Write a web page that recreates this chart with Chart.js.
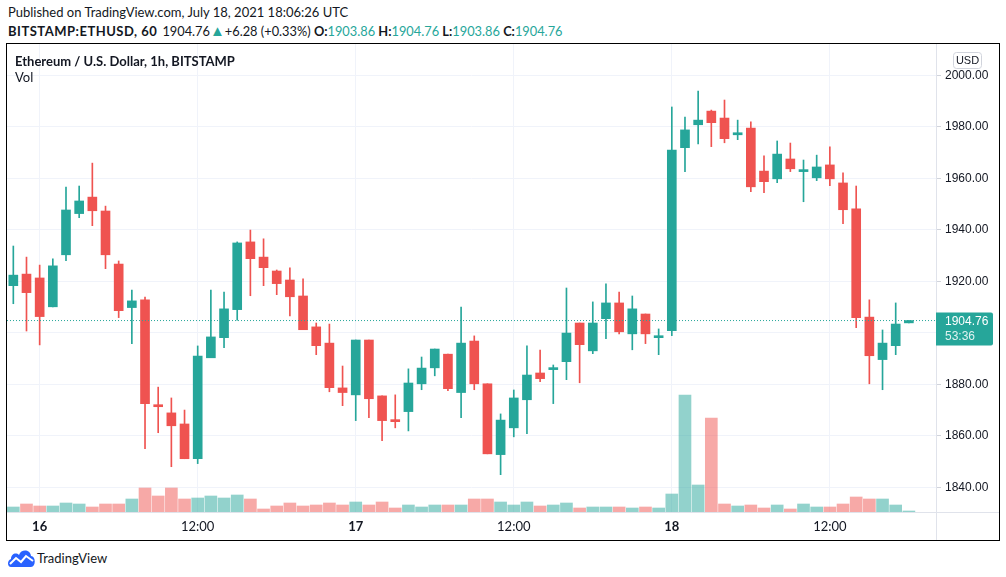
<!DOCTYPE html>
<html>
<head>
<meta charset="utf-8">
<script src="https://cdn.jsdelivr.net/npm/chart.js@4.4.1/dist/chart.umd.min.js"></script>
<style>
  body { margin: 0; width: 1006px; height: 577px; background: #fff; position: relative; overflow: hidden;
         font-family: Lato, "Open Sans", sans-serif; color: #131722; }
  .line { position: absolute; left: 8px; font-size: 13px; white-space: nowrap; }
  .b { font-weight: bold; }
  .t { color: #26a69a; }
  #frame { position: absolute; left: 6px; top: 43px; width: 992px; height: 496px; border: 1px solid #000; }
  #frame canvas { position: absolute; left: 0; top: 0; }
  .pane { position: absolute; left: 15px; font-size: 13px; z-index: 2; }
  #logo { position: absolute; left: 7px; top: 548px; display: flex; align-items: center; font-size: 13px; }
</style>
</head>
<body>
<div class="line" style="top:4px">Published on TradingView.com, July 18, 2021 18:06:26 UTC</div>
<div class="line" style="top:21px"><span class="b" style="letter-spacing:0.5px;margin-right:5px">BITSTAMP:ETHUSD, 60</span><span style="font-size:12.8px">1904.76<span class="t" style="font-size:15px">&#9650;</span>+6.28 (+0.33%) <span class="b">O:</span><span class="t">1903.86</span> <span class="b">H:</span><span class="t">1904.76</span> <span class="b">L:</span><span class="t">1903.86</span> <span class="b">C:</span><span class="t">1904.76</span></span></div>
<div id="frame"><canvas id="chart" width="992" height="496"></canvas></div>
<div class="pane" style="top:53px;font-weight:bold">Ethereum / U.S. Dollar, 1h, BITSTAMP</div>
<div class="pane" style="top:69px">Vol</div>
<div id="logo">
  <svg width="29" height="20" viewBox="0 0 29 20">
    <path d="M4 19 C0 19 0 12 4 11 C4 6 9 4 12 7 C14 1 23 1 24 8 C29 8 29 19 24 19 Z" fill="#2962ff"/>
    <polyline points="3,16 9,10 14,14 19,8 26,13" fill="none" stroke="#fff" stroke-width="2"/>
  </svg>
  <span style="margin-left:1px">TradingView</span>
</div>
<script>
// hourly candles, 15 Jul 22:00 .. 18 Jul 18:00 UTC
const opens = [1918.3, 1922.8, 1921.3, 1910.1, 1930.3, 1946.3, 1952.7, 1947.3, 1926.7, 1909.8,
  1912.8, 1872.0, 1868.9, 1864.6, 1851.1, 1890.3, 1898.1, 1909.0, 1935.3, 1929.4,
  1924.0, 1920.5, 1914.3, 1902.3, 1896.0, 1878.6, 1875.9, 1897.2, 1875.5, 1866.1,
  1869.4, 1880.2, 1886.4, 1891.7, 1876.8, 1896.8, 1880.2, 1852.7, 1863.1, 1874.0,
  1884.4, 1885.7, 1888.8, 1903.8, 1893.0, 1905.5, 1911.6, 1899.6, 1907.3, 1898.1,
  1900.8, 1971.9, 1980.8, 1986.1, 1983.4, 1976.9, 1979.5, 1962.8, 1959.8, 1967.5,
  1962.6, 1960.2, 1965.2, 1958.2, 1948.1, 1906.1, 1889.6, 1895.0, 1903.86];
const highs = [1933.7, 1929.4, 1926.3, 1928.7, 1956.6, 1957.0, 1965.9, 1949.2, 1927.9, 1916.6,
  1913.9, 1878.9, 1874.7, 1870.0, 1894.9, 1916.6, 1915.8, 1935.3, 1939.9, 1936.5,
  1924.4, 1925.2, 1921.0, 1903.8, 1903.4, 1887.1, 1897.2, 1897.2, 1875.5, 1875.9,
  1886.0, 1890.6, 1893.7, 1891.7, 1910.0, 1898.8, 1880.2, 1868.5, 1877.8, 1894.9,
  1893.3, 1887.5, 1917.4, 1903.8, 1912.0, 1919.0, 1915.8, 1914.3, 1907.3, 1901.5,
  1987.7, 1983.8, 1993.9, 1986.5, 1990.4, 1982.6, 1981.9, 1968.7, 1974.5, 1973.7,
  1967.1, 1969.0, 1972.2, 1962.1, 1957.0, 1912.8, 1901.1, 1911.6, 1904.76];
const lows = [1911.3, 1900.7, 1895.3, 1910.1, 1928.0, 1944.7, 1941.6, 1924.9, 1905.9, 1895.8,
  1855.0, 1861.2, 1848.0, 1851.1, 1849.2, 1890.3, 1894.2, 1904.9, 1914.4, 1918.3,
  1914.8, 1906.6, 1901.2, 1891.5, 1877.1, 1871.7, 1865.9, 1867.0, 1858.1, 1863.1,
  1861.9, 1877.9, 1883.3, 1877.5, 1867.0, 1877.9, 1853.0, 1844.9, 1859.6, 1860.8,
  1881.0, 1872.5, 1881.8, 1880.6, 1891.9, 1897.7, 1899.6, 1893.4, 1895.8, 1891.5,
  1898.9, 1962.6, 1973.4, 1972.3, 1973.8, 1975.0, 1954.8, 1954.4, 1958.3, 1962.6,
  1950.9, 1959.1, 1957.1, 1942.4, 1902.0, 1880.2, 1877.9, 1891.5, 1903.86];
const closes = [1922.4, 1915.6, 1906.3, 1926.0, 1947.7, 1951.2, 1947.4, 1930.3, 1908.6, 1912.4,
  1872.5, 1871.3, 1863.9, 1851.1, 1891.0, 1898.4, 1909.3, 1934.9, 1928.8, 1925.3,
  1919.1, 1914.0, 1901.2, 1895.0, 1878.7, 1876.8, 1897.2, 1874.4, 1865.9, 1865.5,
  1880.5, 1886.3, 1893.7, 1878.3, 1896.0, 1880.2, 1853.0, 1866.1, 1874.7, 1883.6,
  1882.2, 1886.3, 1899.9, 1895.4, 1903.8, 1911.6, 1900.4, 1909.3, 1899.6, 1898.6,
  1971.0, 1978.8, 1982.6, 1981.6, 1975.4, 1977.7, 1956.7, 1958.7, 1969.4, 1963.7,
  1963.2, 1964.4, 1959.8, 1947.8, 1905.9, 1891.1, 1896.0, 1903.4, 1904.76];
const volumes = [250, 400, 300, 300, 450, 400, 250, 400, 400, 650,
  1200, 800, 1200, 650, 700, 800, 700, 850, 650, 150,
  300, 450, 300, 350, 450, 350, 500, 350, 500, 200,
  350, 250, 350, 350, 350, 650, 650, 500, 350, 500,
  300, 350, 450, 200, 250, 250, 250, 200, 250, 200,
  900, 5850, 1350, 4700, 400, 300, 350, 200, 350, 150,
  400, 250, 250, 400, 750, 650, 650, 350, 50];
const timeTickPos = [2, 14, 26, 38, 50, 62];
const timeTickLabels = ['16', '12:00', '17', '12:00', '18', '12:00'];
const priceTicks = [1840, 1860, 1880, 1900, 1920, 1940, 1960, 1980, 2000];
const lastPrice = 1904.76;
const countdown = '53:36';

const UP = '#26a69a', DOWN = '#ef5350';
const UP_VOL = 'rgba(38,166,154,0.5)', DOWN_VOL = 'rgba(239,83,80,0.5)';
const X_MIN = -0.48, X_MAX = 70.06;

const isUp = opens.map((o, i) => closes[i] >= o);
const bodies = opens.map((o, i) => ({ x: i, y: [o, closes[i]] }));
const wicks = lows.map((l, i) => ({ x: i, y: [l, highs[i]] }));
const vols = volumes.map((v, i) => ({ x: i, y: v }));

const extras = {
  id: 'extras',
  afterDraw(chart) {
    const { ctx, chartArea: a, scales } = chart;
    ctx.save();
    ctx.strokeStyle = '#e0e3eb';
    ctx.lineWidth = 1;
    ctx.beginPath();
    ctx.moveTo(Math.round(a.right) + 0.5, 0);
    ctx.lineTo(Math.round(a.right) + 0.5, chart.height);
    ctx.moveTo(0, Math.round(a.bottom) + 0.5);
    ctx.lineTo(chart.width, Math.round(a.bottom) + 0.5);
    ctx.stroke();

    // last price label
    const py = scales.y.getPixelForValue(lastPrice);
    ctx.fillStyle = UP;
    ctx.beginPath();
    ctx.roundRect(a.right, py - 8, 57, 33, [0, 2, 2, 0]);
    ctx.fill();
    ctx.fillStyle = '#fff';
    ctx.font = '12px "Liberation Sans", Arial, sans-serif';
    ctx.textBaseline = 'middle';
    ctx.textAlign = 'left';
    ctx.fillText(lastPrice.toFixed(2), a.right + 9, py + 1);
    ctx.fillStyle = 'rgba(255,255,255,0.85)';
    ctx.fillText(countdown, a.right + 9, py + 16);

    // currency box
    ctx.strokeStyle = '#d1d4dc';
    ctx.beginPath();
    ctx.roundRect(a.right + 17.5, 8.5, 28, 16, 3);
    ctx.stroke();
    ctx.fillStyle = '#131722';
    ctx.font = '11px "Liberation Sans", Arial, sans-serif';
    ctx.textAlign = 'center';
    ctx.fillText('USD', a.right + 31.5, 17);
    ctx.restore();
  }
};

new Chart(document.getElementById('chart'), {
  type: 'bar',
  data: {
    datasets: [
      {
        type: 'line',
        data: [{ x: X_MIN, y: lastPrice }, { x: X_MAX, y: lastPrice }],
        borderColor: UP,
        borderWidth: 1,
        borderDash: [1, 2],
        pointRadius: 0,
        yAxisID: 'y',
        order: 0,
      },
      {
        data: bodies,
        backgroundColor: isUp.map(u => (u ? UP : DOWN)),
        barThickness: 9,
        minBarLength: 2,
        grouped: false,
        yAxisID: 'y',
        order: 1,
      },
      {
        data: wicks,
        backgroundColor: isUp.map(u => (u ? UP : DOWN)),
        barThickness: 1,
        grouped: false,
        yAxisID: 'y',
        order: 2,
      },
      {
        data: vols,
        backgroundColor: isUp.map(u => (u ? UP_VOL : DOWN_VOL)),
        barThickness: 12,
        grouped: false,
        yAxisID: 'yv',
        order: 3,
      },
    ],
  },
  options: {
    responsive: false,
    animation: false,
    layout: { padding: 0 },
    plugins: { legend: { display: false }, tooltip: { enabled: false } },
    scales: {
      x: {
        type: 'linear',
        offset: false,
        min: X_MIN,
        max: X_MAX,
        afterBuildTicks: s => { s.ticks = timeTickPos.map(v => ({ value: v })); },
        afterFit: s => { s.height = 28; s.paddingLeft = 0; s.paddingRight = 0; },
        grid: { color: '#f0f3fa', drawTicks: false, offset: false },
        border: { display: false },
        ticks: {
          padding: 7,
          color: '#131722',
          maxRotation: 0,
          font: c => ({ family: 'Lato, sans-serif', size: 13,
            weight: c.index % 2 === 0 ? 'bold' : 'normal' }),
          callback: (v, i) => timeTickLabels[i],
        },
      },
      y: {
        position: 'right',
        min: 1830.41,
        max: 2012.16,
        afterBuildTicks: s => { s.ticks = priceTicks.map(v => ({ value: v })); },
        afterFit: s => { s.width = 63; s.paddingTop = 0; s.paddingBottom = 0; },
        grid: { color: '#f0f3fa', tickLength: 5, tickColor: '#d1d4dc' },
        border: { display: false },
        ticks: {
          padding: 4,
          color: '#131722',
          font: { family: '"Liberation Sans", Arial, sans-serif', size: 12 },
          callback: v => v.toFixed(2),
        },
      },
      yv: {
        display: false,
        min: 0,
        max: 23400,
      },
    },
  },
  plugins: [extras],
});
</script>
</body>
</html>
